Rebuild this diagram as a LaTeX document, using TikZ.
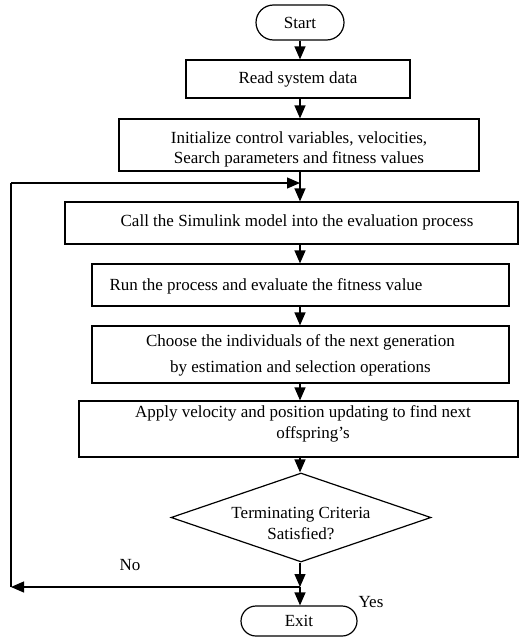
\documentclass[tikz,border=0pt]{standalone}
\usepackage{fontspec}
\setmainfont{Liberation Serif}
\usetikzlibrary{shapes.misc,shapes.geometric,arrows.meta}
\begin{document}
\begin{tikzpicture}[x=1pt,y=-1pt,
  every node/.style={font=\fontsize{17}{20}\selectfont},
  box/.style={draw, line width=1.2pt, inner sep=0pt, fill=none},
  term/.style={draw, rounded rectangle, line width=1.2pt, inner sep=0pt},
  txt/.style={inner sep=0pt, align=center},
  conn/.style={line width=1.2pt},
  arr/.style={line width=1.2pt, -{Triangle[length=13pt,width=11pt]}}]
\useasboundingbox (0,0) rectangle (520,637);
% shapes
\node[term, minimum width=88pt, minimum height=35pt] (start) at (300,22.5) {Start};
\node[box, minimum width=224pt, minimum height=38pt] (read) at (298,79) {Read system data};
\node[box, minimum width=360pt, minimum height=52pt] (init) at (299,145) {};
\node[txt, font=\fontsize{17}{20}\selectfont] (initt) at (299,149) {Initialize control variables, velocities,\\Search parameters and fitness values};
\node[box, minimum width=453pt, minimum height=42pt] (call) at (291.5,223) {};
\node[txt] (callt) at (297,222) {Call the Simulink model into the evaluation process};
\node[box, minimum width=417pt, minimum height=42pt] (run) at (300.5,285) {};
\node[txt] (runt) at (266,286) {Run the process and evaluate the fitness value};
\node[box, minimum width=417pt, minimum height=57pt] (choose) at (300.5,354.5) {};
\node[txt, font=\fontsize{17}{26}\selectfont] (chooset) at (300.5,355) {Choose the individuals of the next generation\\by estimation and selection operations};
\node[box, minimum width=439pt, minimum height=56pt] (apply) at (298.5,429) {};
\node[txt, font=\fontsize{17}{21}\selectfont] (applyt) at (303,424) {Apply velocity and position updating to find next\\\hspace*{20pt}offspring's};
\node[draw, diamond, line width=1.2pt, inner sep=0pt, minimum width=260pt, minimum height=89pt] (dec) at (301,517.5) {};
\node[txt, font=\fontsize{17}{21}\selectfont] (dect) at (301,523) {Terminating Criteria\\Satisfied?};
\node[term, minimum width=116pt, minimum height=30pt] (exit) at (299,621) {Exit};
\node[txt] (no) at (130,565) {No};
\node[txt] (yes) at (371,602) {Yes};
% junctions
\coordinate (j1) at (300,183);
\coordinate (j2) at (300,587);
\coordinate (l1) at (11,183);
\coordinate (l2) at (11,587);
% connectors
\draw[arr] (start.south -| 300,0) -- (read.north -| 300,0);
\draw[arr] (read.south -| 300,0) -- (init.north -| 300,0);
\draw[arr] (init.south -| 300,0) -- (call.north -| 300,0);
\draw[arr] (call.south -| 300,0) -- (run.north -| 300,0);
\draw[arr] (run.south -| 300,0) -- (choose.north -| 300,0);
\draw[arr] (choose.south -| 300,0) -- (apply.north -| 300,0);
\draw[arr] (apply.south -| 300,0) -- (dec.north -| 300,0);
\draw[arr] (dec.south -| 300,0) -- (j2);
\draw[arr] (j2) -- (exit.north -| 300,0);
\draw[arr] (j2) -- (l2);
\draw[conn] (l2) -- (l1);
\draw[arr] (l1) -- (j1);
\end{tikzpicture}
\end{document}
